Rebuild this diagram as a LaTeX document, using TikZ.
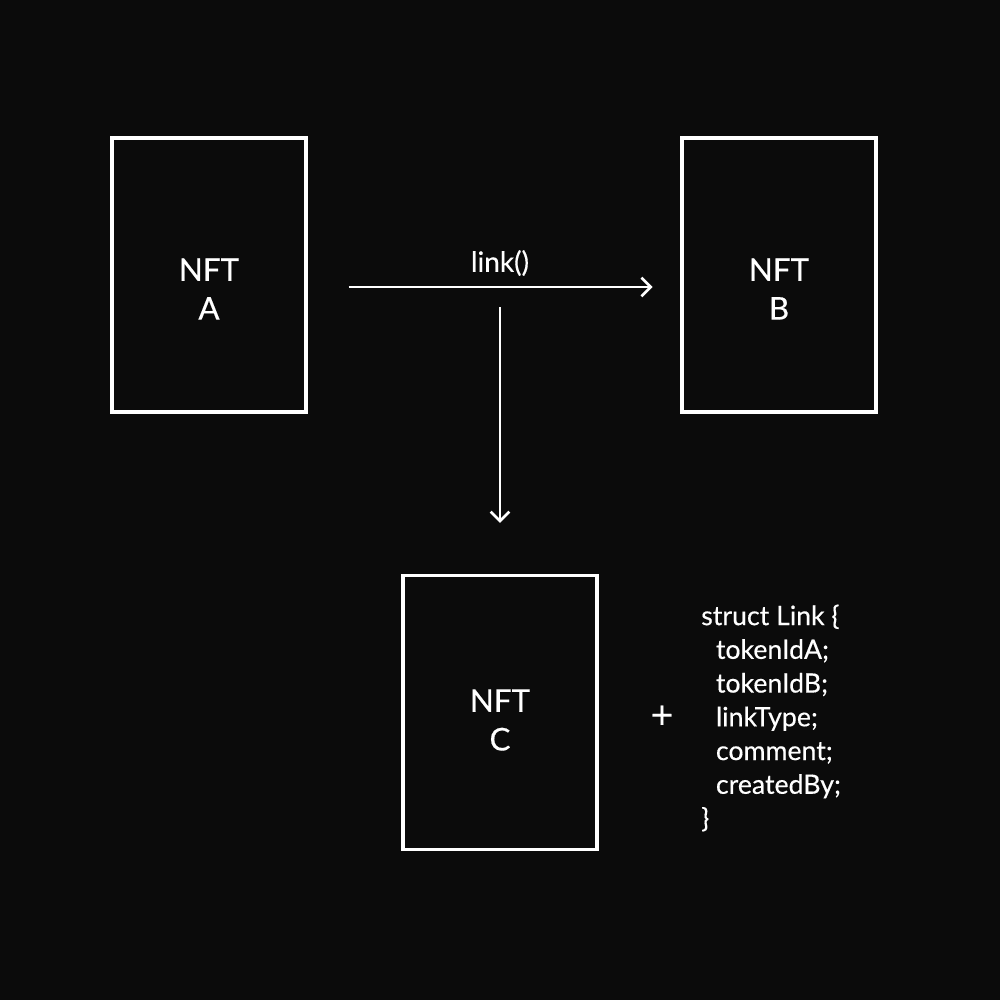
\documentclass[tikz,border=0pt]{standalone}
\usepackage{fontspec}
\setmainfont{Lato}[FakeBold=0.4]
\usetikzlibrary{arrows.meta, positioning}
\definecolor{nightbg}{RGB}{11, 11, 11}

\begin{document}
\begin{tikzpicture}[
  x=0.75pt, y=-0.75pt,
  nftbox/.style={draw=white, line width=2.6pt, minimum width=145.5pt, minimum height=205.5pt, inner sep=0pt, outer sep=0pt},
  nftlabel/.style={text=white, align=center, inner sep=0pt, font=\fontsize{23.5}{29}\selectfont},
  flow/.style={draw=white, line width=2pt, -{Straight Barb[length=7pt, width=14pt]}}
]
  \fill[nightbg] (0,0) rectangle (1000,1000);

  % the three tokens
  \node[nftbox] (nftA) at (209, 275) {};
  \node[nftbox] (nftB) at (779, 275) {};
  \node[nftbox] (nftC) at (500, 712.5) {};
  \node[nftlabel] (nftAtext) at (209, 289) {NFT\\A};
  \node[nftlabel] (nftBtext) at (779, 289) {NFT\\B};
  \node[nftlabel] (nftCtext) at (500, 720) {NFT\\C};

  % link() call
  \draw[flow, shorten <=32pt, shorten >=22pt] (nftA.east |- 0,287) coordinate (linkstart) -- (nftB.west |- 0,287) coordinate (linkend);
  \node[text=white, inner sep=0pt, font=\fontsize{21}{21}\selectfont] (linkcall) at (500, 263) {link()};
  \coordinate (fork) at (500, 287);
  \draw[flow, shorten <=15pt, shorten >=39.5pt] (fork) -- (nftC.north);

  % struct
  \node[text=white, inner sep=0pt, font=\fontsize{29}{29}\selectfont] (plus) at (662, 717) {+};
  \node[text=white, align=left, anchor=west, inner sep=0pt, font=\fontsize{20}{25.3}\selectfont] (linkstruct) at (701, 718) {struct Link \{\\
    \hspace*{11pt}tokenIdA;\\
    \hspace*{11pt}tokenIdB;\\
    \hspace*{11pt}linkType;\\
    \hspace*{11pt}comment;\\
    \hspace*{11pt}createdBy;\\
    \}};
\end{tikzpicture}
\end{document}
